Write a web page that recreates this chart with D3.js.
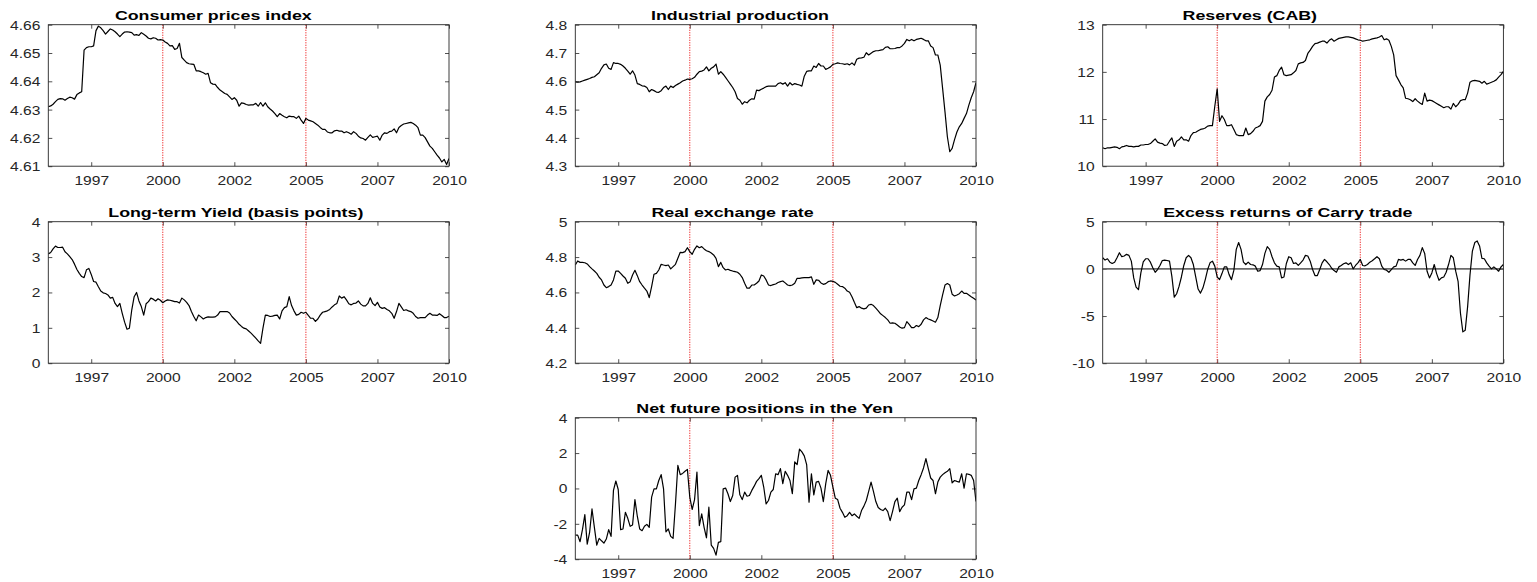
<!DOCTYPE html>
<html>
<head>
<meta charset="utf-8">
<script src="https://cdn.jsdelivr.net/npm/d3@7"></script>
<style>
  html, body { margin: 0; padding: 0; background: #ffffff; }
  svg { display: block; }
  text { font-family: "Liberation Sans", Arial, Helvetica, sans-serif; }
</style>
</head>
<body>
<svg id="chart" width="1537" height="582"></svg>
<script>
// Monthly observations, January 1996 to January 2010 (one row per year)
const startYear = 1996;

const consumerPrices = [
  4.6310,4.6313,4.6319,4.6328,4.6336,4.6339,4.6338,4.6333,4.6339,4.6344,4.6342,4.6337,
  4.6353,4.6359,4.6363,4.6510,4.6519,4.6522,4.6522,4.6525,4.6579,4.6595,4.6589,4.6579,
  4.6567,4.6576,4.6585,4.6581,4.6575,4.6567,4.6558,4.6567,4.6574,4.6575,4.6574,4.6572,
  4.6563,4.6565,4.6562,4.6572,4.6566,4.6560,4.6552,4.6550,4.6554,4.6552,4.6546,4.6547,
  4.6546,4.6539,4.6534,4.6525,4.6526,4.6513,4.6516,4.6534,4.6484,4.6475,4.6466,4.6462,
  4.6461,4.6460,4.6437,4.6437,4.6434,4.6430,4.6425,4.6428,4.6395,4.6390,4.6389,4.6378,
  4.6369,4.6363,4.6357,4.6354,4.6345,4.6336,4.6342,4.6333,4.6312,4.6324,4.6322,4.6318,
  4.6316,4.6317,4.6317,4.6322,4.6312,4.6325,4.6312,4.6324,4.6310,4.6302,4.6295,4.6286,
  4.6275,4.6286,4.6280,4.6275,4.6271,4.6277,4.6275,4.6275,4.6269,4.6277,4.6263,4.6251,
  4.6269,4.6263,4.6260,4.6257,4.6251,4.6245,4.6237,4.6230,4.6230,4.6221,4.6218,4.6218,
  4.6225,4.6227,4.6224,4.6224,4.6218,4.6222,4.6218,4.6213,4.6222,4.6216,4.6206,4.6200,
  4.6198,4.6192,4.6202,4.6211,4.6202,4.6204,4.6206,4.6192,4.6210,4.6218,4.6216,4.6222,
  4.6224,4.6232,4.6218,4.6237,4.6244,4.6249,4.6251,4.6253,4.6255,4.6251,4.6245,4.6236,
  4.6210,4.6210,4.6201,4.6186,4.6171,4.6163,4.6151,4.6139,4.6129,4.6115,4.6124,4.6106,
  4.6127
];

const industrialProduction = [
  4.598,4.597,4.598,4.601,4.604,4.607,4.610,4.614,4.616,4.623,4.630,4.646,
  4.658,4.661,4.646,4.642,4.666,4.663,4.663,4.660,4.654,4.646,4.636,4.625,
  4.637,4.622,4.592,4.589,4.584,4.583,4.578,4.563,4.571,4.567,4.562,4.561,
  4.567,4.578,4.583,4.571,4.583,4.578,4.585,4.590,4.595,4.601,4.604,4.608,
  4.607,4.609,4.614,4.625,4.634,4.636,4.640,4.651,4.637,4.646,4.651,4.661,
  4.625,4.634,4.625,4.614,4.602,4.590,4.578,4.563,4.539,4.533,4.519,4.528,
  4.524,4.533,4.538,4.537,4.569,4.567,4.572,4.576,4.581,4.583,4.583,4.583,
  4.583,4.592,4.595,4.590,4.595,4.583,4.595,4.587,4.592,4.589,4.587,4.583,
  4.618,4.635,4.637,4.637,4.654,4.649,4.663,4.654,4.654,4.642,4.646,4.651,
  4.660,4.662,4.665,4.663,4.662,4.660,4.662,4.658,4.665,4.657,4.678,4.682,
  4.683,4.685,4.701,4.693,4.699,4.705,4.708,4.708,4.710,4.712,4.720,4.722,
  4.715,4.715,4.716,4.719,4.719,4.725,4.734,4.748,4.743,4.748,4.743,4.748,
  4.750,4.752,4.748,4.743,4.743,4.725,4.719,4.693,4.693,4.657,4.575,4.492,
  4.404,4.351,4.363,4.394,4.421,4.439,4.451,4.469,4.486,4.516,4.542,4.563,
  4.595
];

const reservesCab = [
  10.39,10.37,10.39,10.39,10.40,10.41,10.40,10.37,10.41,10.42,10.44,10.42,
  10.42,10.41,10.42,10.42,10.45,10.45,10.46,10.46,10.48,10.53,10.58,10.51,
  10.49,10.48,10.44,10.45,10.53,10.60,10.42,10.53,10.56,10.62,10.56,10.56,
  10.53,10.65,10.71,10.72,10.75,10.78,10.79,10.81,10.85,10.86,10.86,11.27,
  11.64,10.95,11.07,10.99,10.86,10.86,10.88,10.78,10.67,10.65,10.65,10.65,
  10.81,10.67,10.69,10.74,10.81,10.83,10.86,10.95,11.38,11.47,11.52,11.61,
  11.89,11.92,12.03,12.10,11.94,11.92,11.93,11.94,11.98,12.03,12.17,12.19,
  12.20,12.24,12.39,12.46,12.54,12.60,12.61,12.63,12.65,12.65,12.61,12.67,
  12.70,12.65,12.68,12.71,12.72,12.73,12.74,12.74,12.73,12.72,12.70,12.68,
  12.67,12.65,12.66,12.67,12.68,12.70,12.71,12.72,12.74,12.77,12.68,12.70,
  12.67,12.54,12.36,11.92,11.83,11.73,11.66,11.44,11.43,11.41,11.37,11.43,
  11.38,11.34,11.31,11.55,11.38,11.40,11.39,11.36,11.33,11.30,11.27,11.24,
  11.26,11.26,11.21,11.33,11.26,11.31,11.39,11.41,11.41,11.55,11.78,11.81,
  11.82,11.81,11.80,11.76,11.80,11.74,11.76,11.78,11.80,11.83,11.89,11.94,
  12.01
];

const longTermYield = [
  3.09,3.13,3.23,3.31,3.27,3.27,3.28,3.15,3.09,3.01,2.93,2.80,
  2.65,2.54,2.45,2.42,2.64,2.68,2.51,2.31,2.29,2.16,2.04,1.99,
  1.97,1.93,1.84,1.86,1.69,1.60,1.69,1.41,1.16,0.96,0.99,1.51,
  1.88,2.00,1.76,1.60,1.36,1.68,1.74,1.84,1.81,1.76,1.82,1.78,
  1.71,1.76,1.79,1.78,1.76,1.74,1.74,1.70,1.84,1.79,1.72,1.63,
  1.46,1.32,1.20,1.36,1.31,1.25,1.29,1.31,1.30,1.30,1.31,1.36,
  1.46,1.46,1.46,1.46,1.42,1.32,1.25,1.18,1.10,1.04,0.99,0.97,
  0.91,0.85,0.78,0.71,0.63,0.56,0.99,1.36,1.35,1.32,1.33,1.35,
  1.36,1.25,1.48,1.57,1.60,1.88,1.63,1.48,1.36,1.38,1.44,1.41,
  1.44,1.35,1.27,1.27,1.18,1.25,1.36,1.44,1.46,1.48,1.52,1.59,
  1.65,1.69,1.90,1.84,1.88,1.79,1.68,1.65,1.69,1.70,1.76,1.67,
  1.62,1.62,1.69,1.85,1.69,1.63,1.72,1.59,1.55,1.57,1.52,1.48,
  1.41,1.27,1.46,1.69,1.59,1.49,1.51,1.48,1.46,1.41,1.32,1.27,
  1.29,1.29,1.29,1.36,1.41,1.36,1.36,1.35,1.40,1.35,1.29,1.29,
  1.33
];

const realExchangeRate = [
  4.755,4.778,4.770,4.770,4.768,4.761,4.746,4.733,4.721,4.708,4.686,4.671,
  4.642,4.627,4.633,4.642,4.671,4.721,4.721,4.708,4.693,4.680,4.652,4.661,
  4.699,4.725,4.695,4.661,4.642,4.624,4.608,4.571,4.633,4.703,4.708,4.727,
  4.759,4.755,4.752,4.755,4.733,4.746,4.759,4.793,4.827,4.825,4.831,4.853,
  4.831,4.816,4.844,4.863,4.853,4.859,4.846,4.836,4.831,4.823,4.812,4.793,
  4.746,4.770,4.740,4.727,4.731,4.725,4.721,4.718,4.714,4.703,4.684,4.652,
  4.624,4.624,4.642,4.642,4.652,4.665,4.699,4.693,4.671,4.642,4.639,4.644,
  4.648,4.656,4.661,4.665,4.654,4.642,4.639,4.642,4.652,4.680,4.680,4.682,
  4.684,4.684,4.684,4.688,4.646,4.671,4.669,4.654,4.646,4.650,4.661,4.665,
  4.663,4.657,4.646,4.635,4.633,4.624,4.608,4.601,4.576,4.544,4.514,4.520,
  4.511,4.507,4.511,4.529,4.533,4.526,4.511,4.496,4.479,4.469,4.458,4.445,
  4.426,4.428,4.426,4.416,4.405,4.398,4.401,4.435,4.420,4.401,4.401,4.413,
  4.407,4.420,4.445,4.458,4.450,4.445,4.439,4.432,4.458,4.526,4.586,4.642,
  4.650,4.642,4.590,4.580,4.586,4.593,4.608,4.595,4.595,4.586,4.576,4.567,
  4.558
];

const carryExcessReturns = [
  1.18,0.93,1.07,0.71,0.57,0.71,1.18,1.71,1.29,1.36,1.54,1.43,
  0.82,-0.96,-1.93,-2.21,-0.43,0.75,1.07,1.07,0.71,0.11,-0.36,-0.07,
  0.36,0.89,0.93,0.89,0.82,-0.79,-3.00,-2.64,-1.86,-0.86,0.36,1.18,
  1.43,1.18,0.46,-0.86,-2.14,-2.57,-2.04,-1.14,-0.07,0.64,0.82,0.29,
  -0.86,-1.14,-0.50,0.21,0.21,-0.61,-1.14,-0.14,2.07,2.79,2.07,0.71,
  0.46,0.71,0.46,0.43,0.29,-0.25,-0.18,0.46,1.64,2.36,2.07,1.29,
  0.64,0.29,0.21,-0.96,-0.86,0.57,1.29,1.18,0.57,0.64,0.36,0.64,
  0.93,1.43,1.36,0.82,-0.07,-0.71,-0.71,-0.07,0.64,1.00,0.75,0.46,
  0.07,-0.18,-0.36,0.21,0.36,0.54,0.64,0.46,0.64,0.00,0.36,0.64,
  1.00,0.36,0.32,0.46,0.71,0.86,1.07,1.29,1.07,0.29,-0.07,-0.14,
  -0.36,-0.07,0.21,0.29,1.00,0.93,1.00,0.82,1.00,1.00,0.64,0.36,
  1.00,1.43,2.25,1.64,-0.25,-0.96,-0.43,0.46,-0.50,-1.21,-0.96,-0.86,
  -0.36,0.46,1.43,1.18,-0.25,-1.32,-4.71,-6.68,-6.50,-4.00,-0.61,1.89,
  2.79,2.96,2.43,1.11,1.07,0.64,0.29,0.00,0.21,0.00,-0.25,0.21,
  0.46
];

const netYenPositions = [
  -2.64,-2.64,-3.01,-2.33,-1.48,-3.15,-2.48,-1.16,-2.20,-3.20,-2.82,-2.96,
  -3.09,-2.86,-2.33,-2.71,-0.11,0.42,-0.06,-2.33,-2.29,-1.35,-1.69,-2.14,
  -2.07,-0.63,-1.57,-2.29,-2.39,-2.14,-2.03,-2.20,-0.49,-0.02,-0.02,0.45,
  0.78,-0.02,-2.45,-2.29,-2.71,-2.82,-0.87,1.31,0.78,0.85,0.97,1.08,
  -0.49,-1.19,-0.63,0.93,-2.10,-1.44,-2.20,-2.79,-1.06,-3.20,-3.39,-3.77,
  -3.05,-3.01,-0.02,0.02,-0.30,-0.74,-0.40,0.64,0.74,-0.36,-0.63,-0.21,
  -0.44,-0.40,-0.11,0.13,0.40,0.55,0.74,0.08,-0.87,-0.68,-0.21,-0.06,
  0.83,0.78,1.12,0.27,0.97,0.74,0.45,-0.30,1.50,1.35,2.22,2.07,
  1.84,1.35,-0.78,0.83,-0.36,0.36,0.40,0.02,-0.74,0.27,1.02,0.74,
  0.08,-0.55,-0.63,-1.12,-1.35,-1.63,-1.54,-1.35,-1.54,-1.44,-1.57,-1.69,
  -1.25,-1.00,-0.68,-0.17,0.36,-0.17,-0.74,-1.08,-1.19,-1.25,-1.12,-1.31,
  -1.82,-1.31,-0.74,-0.55,-1.31,-1.06,-0.93,-0.21,-0.21,-0.63,-0.02,0.02,
  0.45,0.78,1.16,1.69,1.12,0.59,0.45,-0.30,0.36,0.64,0.78,0.89,
  0.97,1.12,0.32,0.45,0.40,0.36,0.83,0.02,0.83,0.80,0.74,0.45,
  -0.74
];

// Shared time axis: tick positions (decimal years) and their labels
const xDomain = [1996, 2010];
const xTickValues = [1997.5, 2000, 2002.5, 2005, 2007.5, 2010];
const xTickLabels = ["1997", "2000", "2002", "2005", "2007", "2010"];
const markerYears = [2000, 2005];

// Y-axis ticks per panel
const cpiTicks = [4.61, 4.62, 4.63, 4.64, 4.65, 4.66];
const ipTicks = [4.3, 4.4, 4.5, 4.6, 4.7, 4.8];
const resTicks = [10, 11, 12, 13];
const ltyTicks = [0, 1, 2, 3, 4];
const rerTicks = [4.2, 4.4, 4.6, 4.8, 5];
const carryTicks = [-10, -5, 0, 5];
const yenTicks = [-4, -2, 0, 2, 4];

// Plain ASCII tick labels (hyphen-minus for negatives)
const fixed = n => d => d.toFixed(n);
const plain = d => String(d);

const panels = [
  { title: "Consumer prices index", values: consumerPrices, domain: [4.61, 4.66], ticks: cpiTicks, fmt: fixed(2), col: 0, row: 0, titleX: 165 },
  { title: "Industrial production", values: industrialProduction, domain: [4.3, 4.8], ticks: ipTicks, fmt: fixed(1), col: 1, row: 0, titleX: 164.7 },
  { title: "Reserves (CAB)", values: reservesCab, domain: [10, 13], ticks: resTicks, fmt: plain, col: 2, row: 0, titleX: 147.1 },
  { title: "Long-term Yield (basis points)", values: longTermYield, domain: [0, 4], ticks: ltyTicks, fmt: plain, col: 0, row: 1, titleX: 187.5 },
  { title: "Real exchange rate", values: realExchangeRate, domain: [4.2, 5], ticks: rerTicks, fmt: plain, col: 1, row: 1, titleX: 157.2 },
  { title: "Excess returns of Carry trade", values: carryExcessReturns, domain: [-10, 5], ticks: carryTicks, fmt: plain, col: 2, row: 1, titleX: 185.1, zeroLine: true },
  { title: "Net future positions in the Yen", values: netYenPositions, domain: [-4, 4], ticks: yenTicks, fmt: plain, col: 1, row: 2, titleX: 189.4 }
];

// Layout of the 3x3 subplot grid
const colLeft = [48.3, 575.3, 1102.7];
const rowTop = [24.7, 221.7, 417.7];
const plotW = 400.7;
const plotH = 141.5;
const axisColor = "#262626";
const tickLen = 4;
const tickFont = 13, tickStretch = 1.2;
const titleFont = 13, titleStretch = 1.37;

const svg = d3.select("#chart");
const defs = svg.append("defs");

panels.forEach((p, idx) => {
  const g = svg.append("g")
    .attr("transform", `translate(${colLeft[p.col]},${rowTop[p.row]})`);

  const x = d3.scaleLinear().domain(xDomain).range([0, plotW]);
  const y = d3.scaleLinear().domain(p.domain).range([plotH, 0]);

  const clipId = "clip" + idx;
  defs.append("clipPath").attr("id", clipId)
    .append("rect").attr("width", plotW).attr("height", plotH);

  // Inward ticks on all four sides
  const bottom = g.append("g").attr("transform", `translate(0,${plotH})`)
    .call(d3.axisBottom(x).tickValues(xTickValues)
      .tickFormat((d, i) => xTickLabels[i]).tickSizeInner(-tickLen).tickSizeOuter(0));
  const top = g.append("g")
    .call(d3.axisTop(x).tickValues(xTickValues).tickFormat("")
      .tickSizeInner(-tickLen).tickSizeOuter(0));
  const left = g.append("g")
    .call(d3.axisLeft(y).tickValues(p.ticks).tickFormat(p.fmt)
      .tickSizeInner(-tickLen).tickSizeOuter(0));
  const right = g.append("g").attr("transform", `translate(${plotW},0)`)
    .call(d3.axisRight(y).tickValues(p.ticks).tickFormat("")
      .tickSizeInner(-tickLen).tickSizeOuter(0));

  [bottom, top, left, right].forEach(a => {
    a.select(".domain").remove();
    a.selectAll(".tick line").attr("stroke", axisColor).attr("stroke-width", 0.8);
  });

  bottom.selectAll(".tick text")
    .attr("x", 0).attr("y", 0).attr("dy", 0)
    .attr("transform", `translate(0,19) scale(${tickStretch},1)`)
    .attr("fill", axisColor)
    .style("font-size", tickFont + "px")
    .style("font-family", '"Liberation Sans", Arial, Helvetica, sans-serif');

  left.selectAll(".tick text")
    .attr("x", 0).attr("dy", "0.34em")
    .attr("transform", `translate(-8,0) scale(${tickStretch},1)`)
    .attr("fill", axisColor)
    .style("font-size", tickFont + "px")
    .style("font-family", '"Liberation Sans", Arial, Helvetica, sans-serif');

  // Event markers
  g.selectAll("line.marker").data(markerYears).enter().append("line")
    .attr("class", "marker")
    .attr("x1", d => x(d)).attr("x2", d => x(d))
    .attr("y1", 0).attr("y2", plotH)
    .attr("stroke", "#ee2020").attr("stroke-width", 1)
    .attr("stroke-dasharray", "1.2,1.3");

  if (p.zeroLine) {
    g.append("line")
      .attr("x1", 0).attr("x2", plotW)
      .attr("y1", y(0)).attr("y2", y(0))
      .attr("stroke", "#6a6a6a").attr("stroke-width", 1.6);
  }

  const line = d3.line()
    .x((d, i) => x(startYear + i / 12))
    .y(d => y(d));

  g.append("path")
    .datum(p.values)
    .attr("clip-path", `url(#${clipId})`)
    .attr("fill", "none")
    .attr("stroke", "#000000")
    .attr("stroke-width", 1.2)
    .attr("stroke-linejoin", "round")
    .attr("d", line);

  // Plot frame
  g.append("rect")
    .attr("width", plotW).attr("height", plotH)
    .attr("fill", "none").attr("stroke", axisColor).attr("stroke-width", 0.9);

  g.append("text")
    .attr("transform", `translate(${p.titleX},-4.5) scale(${titleStretch},1)`)
    .attr("text-anchor", "middle")
    .attr("font-weight", "bold")
    .attr("font-size", titleFont + "px")
    .attr("fill", "#000000")
    .text(p.title);
});
</script>
</body>
</html>
